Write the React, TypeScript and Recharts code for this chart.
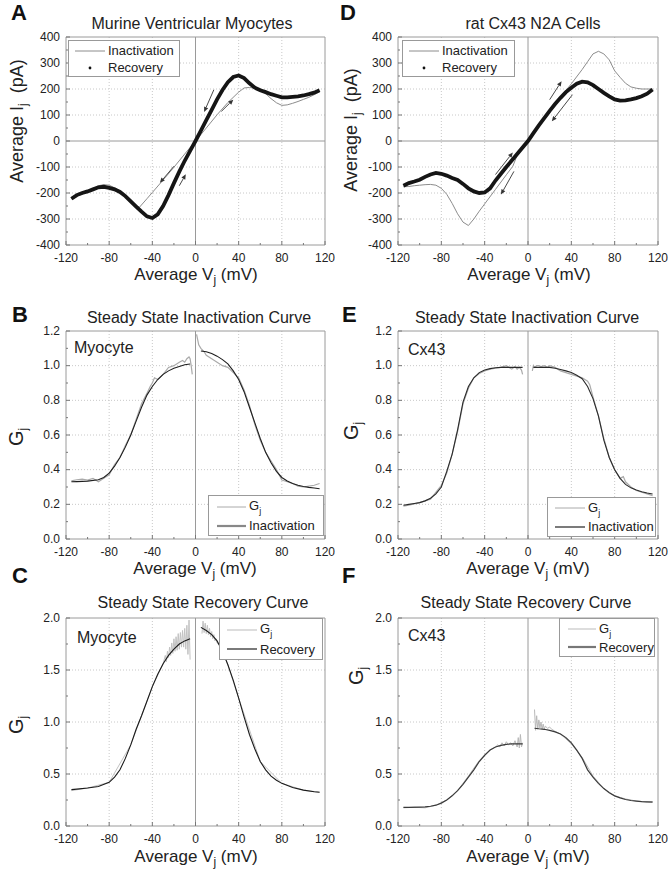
import React from 'react';
import { LineChart, Line, XAxis, YAxis, ReferenceLine, Legend } from 'recharts';

const FONT = '"Liberation Sans", Arial, Helvetica, sans-serif';
const AX = '#9a9a9a';
const GRID = '#c8c8c8';
const TXT = '#222';

// shared x axis (Vj, mV)
const xTicks = [-120, -100, -80, -60, -40, -20, 0, 20, 40, 60, 80, 100, 120];
const xMajor = [-120, -80, -40, 0, 40, 80, 120];
const xGrid = [-80, -40, 40, 80];

// current axis (A, D)
const iTicks = [-400, -350, -300, -250, -200, -150, -100, -50, 0, 50, 100, 150, 200, 250, 300, 350, 400];
const iMajor = [-400, -300, -200, -100, 0, 100, 200, 300, 400];
const iGrid = [-300, -200, -100, 100, 200, 300];

// Gj axis 0-1.2 (B, E)
const g12Ticks = [0, 0.1, 0.2, 0.3, 0.4, 0.5, 0.6, 0.7, 0.8, 0.9, 1.0, 1.1, 1.2];
const g12Major = [0, 0.2, 0.4, 0.6, 0.8, 1.0, 1.2];
const g12Grid = [0.2, 0.4, 0.6, 0.8, 1.0];

// Gj axis 0-2 (C, F)
const g2Ticks = [0, 0.25, 0.5, 0.75, 1.0, 1.25, 1.5, 1.75, 2.0];
const g2Major = [0, 0.5, 1.0, 1.5, 2.0];
const g2Grid = [0.5, 1.0, 1.5];

// A: murine ventricular myocytes
const aInactV = [-115, -110, -105, -100, -95, -90, -85, -80, -75, -70, -65, -60, -55, -52, -45, -40, -30, -20, -10, 0, 10, 20, 30, 40, 45, 50, 55, 60, 65, 70, 75, 80, 85, 90, 95, 100, 105, 110, 115];
const aInactI = [-222, -212, -204, -196, -184, -172, -168, -170, -180, -192, -210, -232, -250, -255, -222, -198, -150, -101, -50, 0, 50, 101, 148, 188, 204, 206, 203, 198, 182, 163, 147, 137, 139, 145, 152, 160, 168, 178, 190];
const aRecV = [-115, -110, -105, -100, -95, -90, -85, -80, -75, -70, -65, -60, -55, -50, -45, -40, -35, -30, -25, -20, -15, -10, -5, 0, 5, 10, 15, 20, 25, 30, 35, 40, 45, 50, 55, 60, 65, 70, 75, 80, 85, 90, 95, 100, 105, 110, 115];
const aRecI = [-222, -208, -200, -194, -186, -178, -176, -180, -186, -196, -212, -232, -252, -272, -290, -296, -282, -250, -208, -162, -118, -76, -38, 0, 40, 80, 120, 160, 196, 226, 246, 252, 242, 222, 205, 195, 188, 180, 174, 168, 168, 170, 172, 175, 180, 186, 195];
// direction arrows [v1, i1, v2, i2]
const aArrows = [
  [-20, -97, -33, -161],
  [-15, -172, -9, -128],
  [17, 197, 8, 112],
  [24, 114, 35, 159],
];

// D: rat Cx43 N2A cells
const dInactV = [-115, -110, -105, -100, -95, -90, -85, -80, -75, -70, -65, -60, -55, -50, -45, -40, -30, -20, -14, -10, 0, 10, 20, 30, 40, 50, 55, 60, 65, 70, 75, 80, 85, 90, 95, 100, 105, 110, 115];
const dInactI = [-176, -175, -172, -170, -168, -167, -170, -182, -205, -240, -280, -312, -325, -300, -270, -242, -186, -130, -97, -55, 0, 58, 118, 169, 220, 275, 305, 335, 345, 335, 312, 270, 245, 222, 208, 203, 200, 200, 200];
const dRecV = [-115, -110, -105, -100, -95, -90, -85, -80, -75, -70, -65, -60, -55, -50, -45, -40, -35, -30, -25, -20, -15, -10, -5, 0, 5, 10, 15, 20, 25, 30, 35, 40, 45, 50, 55, 60, 65, 70, 75, 80, 85, 90, 95, 100, 105, 110, 115];
const dRecI = [-172, -162, -156, -149, -138, -129, -123, -126, -133, -142, -150, -165, -182, -194, -200, -198, -182, -152, -126, -100, -75, -50, -25, 0, 30, 60, 88, 116, 142, 166, 188, 205, 220, 228, 226, 215, 200, 185, 172, 160, 155, 156, 160, 165, 172, 182, 198];
const dArrows = [
  [20, 159, 31, 230],
  [41, 178, 22, 76],
  [-30, -129, -14, -44],
  [-13, -117, -25, -206],
];

// B: myocyte steady state inactivation
const bGjNegV = [-115, -110, -105, -100, -95, -90, -85, -80, -75, -70, -65, -60, -55, -50, -45, -42, -40, -38, -35, -30, -25, -20, -15, -12, -10, -8, -6, -5, -4, -3];
const bGjNegG = [0.335, 0.342, 0.345, 0.34, 0.35, 0.33, 0.35, 0.37, 0.43, 0.47, 0.54, 0.6, 0.69, 0.78, 0.84, 0.88, 0.9, 0.93, 0.92, 0.95, 0.99, 1.0, 1.02, 1.03, 1.02, 1.04, 1.05, 1.04, 1.0, 0.95];
const bGjPosV = [1, 2, 3, 5, 8, 10, 15, 20, 25, 30, 35, 40, 45, 50, 55, 60, 65, 70, 75, 80, 85, 90, 95, 100, 105, 110, 115];
const bGjPosG = [1.18, 1.15, 1.12, 1.1, 1.08, 1.06, 1.04, 1.02, 1.0, 0.99, 0.96, 0.93, 0.86, 0.77, 0.66, 0.57, 0.5, 0.45, 0.4, 0.34, 0.33, 0.32, 0.305, 0.3, 0.305, 0.31, 0.32];
const bFitNegV = [-115, -110, -100, -90, -85, -80, -75, -70, -65, -60, -55, -50, -45, -40, -35, -30, -25, -20, -15, -10, -5];
const bFitNegG = [0.33, 0.331, 0.334, 0.342, 0.355, 0.38, 0.42, 0.47, 0.53, 0.6, 0.68, 0.76, 0.83, 0.88, 0.92, 0.95, 0.97, 0.985, 0.995, 1.005, 1.01];
const bFitPosV = [5, 10, 15, 20, 25, 30, 35, 40, 45, 50, 55, 60, 65, 70, 75, 80, 85, 90, 95, 100, 105, 110, 115];
const bFitPosG = [1.085, 1.08, 1.07, 1.055, 1.035, 1.01, 0.97, 0.92, 0.85, 0.76, 0.67, 0.58, 0.5, 0.44, 0.39, 0.355, 0.335, 0.32, 0.31, 0.303, 0.298, 0.294, 0.29];

// E: Cx43 steady state inactivation
const eGjNegV = [-115, -110, -100, -90, -80, -75, -70, -65, -60, -55, -50, -45, -40, -35, -30, -25, -20, -15, -12, -10, -8, -6, -5];
const eGjNegG = [0.19, 0.195, 0.21, 0.23, 0.31, 0.38, 0.49, 0.62, 0.78, 0.87, 0.93, 0.955, 0.97, 0.98, 0.985, 0.99, 1.0, 0.98, 0.995, 0.98, 0.99, 0.975, 0.95];
const eGjPosV = [4, 5, 6, 8, 10, 12, 15, 18, 20, 25, 30, 35, 40, 45, 50, 55, 57, 60, 65, 70, 75, 80, 85, 88, 90, 95, 100, 105, 110, 115];
const eGjPosG = [0.97, 1.0, 0.99, 1.0, 1.0, 0.995, 1.0, 0.99, 1.0, 0.99, 0.97, 0.96, 0.95, 0.94, 0.93, 0.91, 0.89, 0.82, 0.71, 0.58, 0.47, 0.4, 0.35, 0.36, 0.33, 0.3, 0.28, 0.27, 0.26, 0.25];
const eFitNegV = [-115, -110, -105, -100, -95, -90, -85, -80, -75, -70, -65, -60, -55, -50, -45, -40, -35, -30, -25, -20, -15, -10, -5];
const eFitNegG = [0.195, 0.2, 0.205, 0.21, 0.22, 0.235, 0.26, 0.3, 0.39, 0.49, 0.63, 0.79, 0.88, 0.93, 0.96, 0.975, 0.983, 0.988, 0.99, 0.99, 0.99, 0.99, 0.99];
const eFitPosV = [5, 10, 15, 20, 25, 30, 35, 40, 45, 50, 55, 60, 65, 70, 75, 80, 85, 90, 95, 100, 105, 110, 115];
const eFitPosG = [0.99, 0.99, 0.99, 0.99, 0.985, 0.978, 0.97, 0.96, 0.945, 0.925, 0.88, 0.81, 0.71, 0.57, 0.47, 0.4, 0.35, 0.315, 0.295, 0.283, 0.273, 0.265, 0.26];

// C: myocyte steady state recovery
const cGjNegV = [-115, -100, -80, -60, -40, -30, -28, -27, -26, -25, -24, -23, -22, -21, -20, -19, -18, -17, -16, -15, -14, -13, -12, -11, -10, -9, -8, -7, -6, -5];
const cGjNegG = [0.34, 0.365, 0.42, 0.78, 1.34, 1.56, 1.64, 1.58, 1.68, 1.62, 1.72, 1.64, 1.76, 1.66, 1.8, 1.68, 1.82, 1.69, 1.85, 1.7, 1.86, 1.72, 1.88, 1.72, 1.9, 1.7, 1.93, 1.65, 1.98, 1.6];
const cGjPosV = [6, 7, 8, 9, 10, 11, 12, 13, 14, 15, 16, 17, 18, 19, 20, 22, 24, 26, 30, 40, 60, 80, 100, 115];
const cGjPosG = [1.85, 1.97, 1.86, 1.95, 1.85, 1.93, 1.84, 1.9, 1.82, 1.87, 1.8, 1.84, 1.78, 1.8, 1.76, 1.74, 1.7, 1.66, 1.55, 1.23, 0.62, 0.41, 0.345, 0.325];
const cFitNegV = [-115, -110, -100, -90, -80, -75, -70, -65, -60, -55, -50, -45, -40, -35, -30, -25, -20, -15, -10, -5];
const cFitNegG = [0.35, 0.355, 0.365, 0.38, 0.42, 0.47, 0.54, 0.65, 0.78, 0.93, 1.06, 1.2, 1.34, 1.46, 1.56, 1.64, 1.7, 1.75, 1.78, 1.8];
const cFitPosV = [5, 10, 15, 20, 25, 30, 35, 40, 45, 50, 55, 60, 65, 70, 75, 80, 90, 100, 110, 115];
const cFitPosG = [1.91, 1.88, 1.84, 1.78, 1.68, 1.55, 1.4, 1.23, 1.05, 0.88, 0.74, 0.62, 0.54, 0.48, 0.44, 0.41, 0.37, 0.345, 0.33, 0.325];

// F: Cx43 steady state recovery
const fGjNegV = [-115, -105, -95, -85, -75, -65, -55, -45, -35, -30, -28, -26, -24, -22, -20, -18, -16, -14, -12, -10, -9, -8, -7, -6, -5];
const fGjNegG = [0.175, 0.18, 0.175, 0.2, 0.25, 0.34, 0.48, 0.63, 0.73, 0.76, 0.78, 0.76, 0.8, 0.77, 0.81, 0.78, 0.8, 0.77, 0.82, 0.76, 0.85, 0.75, 0.88, 0.76, 0.8];
const fGjPosV = [6, 7, 8, 9, 10, 11, 12, 13, 14, 15, 16, 18, 20, 22, 25, 30, 40, 50, 60, 70, 80, 90, 100, 110, 115];
const fGjPosG = [1.12, 0.92, 1.06, 0.93, 1.02, 0.94, 1.0, 0.93, 0.98, 0.93, 0.96, 0.94, 0.95, 0.93, 0.91, 0.885, 0.79, 0.66, 0.48, 0.36, 0.29, 0.26, 0.24, 0.23, 0.235];
const fFitNegV = [-115, -110, -100, -95, -90, -85, -80, -75, -70, -65, -60, -55, -50, -45, -40, -35, -30, -25, -20, -15, -10, -5];
const fFitNegG = [0.18, 0.18, 0.182, 0.183, 0.19, 0.2, 0.22, 0.25, 0.29, 0.34, 0.4, 0.47, 0.54, 0.62, 0.68, 0.73, 0.76, 0.775, 0.785, 0.79, 0.79, 0.79];
const fFitPosV = [6, 10, 15, 20, 25, 30, 35, 40, 45, 50, 55, 60, 65, 70, 75, 80, 85, 90, 95, 100, 105, 110, 115];
const fFitPosG = [0.94, 0.935, 0.93, 0.92, 0.905, 0.885, 0.85, 0.8, 0.73, 0.65, 0.54, 0.47, 0.41, 0.36, 0.32, 0.29, 0.27, 0.255, 0.245, 0.24, 0.235, 0.232, 0.23];

type Pt = { v: number; y: number };
const pts = (vs: number[], ys: number[]): Pt[] => vs.map((v, i) => ({ v, y: ys[i] }));

interface Series { key: string; data: Pt[]; color: string; width: number }
interface LegendItem { label: string; sub?: string; color: string; width: number; dot?: boolean }

const near = (list: number[], v: number) => list.some((m) => Math.abs(m - v) < 1e-6);

const XTick = (props: any) => {
  const { x, y, payload } = props;
  const v = payload.value;
  const major = near(xMajor, v);
  const ay = y - 4;
  return (
    <g>
      <line x1={x} x2={x} y1={ay} y2={ay - (major ? 4 : 2)} stroke="#777" />
      {major && (
        <text x={x} y={ay + 17} textAnchor="middle" fontSize={12} fill={TXT} fontFamily={FONT}>
          {v}
        </text>
      )}
    </g>
  );
};

const YTick = (props: any) => {
  const { x, y, payload, majors, fmt } = props;
  const v = payload.value;
  const major = near(majors, v);
  const ax = x + 6;
  return (
    <g>
      <line x1={ax} x2={ax + (major ? 4 : 2)} y1={y} y2={y} stroke="#777" />
      {major && (
        <text x={x} y={y + 3.5} textAnchor="end" fontSize={12} fill={TXT} fontFamily={FONT}>
          {fmt(v)}
        </text>
      )}
    </g>
  );
};

// small annotation arrow drawn by ReferenceLine
const ArrowShape = (p: any) => {
  const { x1, y1, x2, y2 } = p;
  const a = Math.atan2(y2 - y1, x2 - x1);
  const s = 5;
  const w = 2.2;
  const bx = x2 - s * Math.cos(a);
  const by = y2 - s * Math.sin(a);
  const nx = -Math.sin(a) * w;
  const ny = Math.cos(a) * w;
  return (
    <g>
      <line x1={x1} y1={y1} x2={bx} y2={by} stroke="#333" strokeWidth={0.9} />
      <polygon points={`${x2},${y2} ${bx + nx},${by + ny} ${bx - nx},${by - ny}`} fill="#333" />
    </g>
  );
};

const LegendBox = ({ items, w, h, pad, sample }: { items: LegendItem[]; w: number; h: number; pad: number; sample: number }) => (
  <div
    style={{
      boxSizing: 'border-box',
      width: w,
      height: h,
      border: '1px solid #999',
      background: '#fff',
      padding: `1px 0 0 ${pad}px`,
      fontFamily: FONT,
      fontSize: 13,
      color: TXT,
      lineHeight: '17px',
    }}
  >
    {items.map((it) => (
      <div key={it.label} style={{ display: 'flex', alignItems: 'center', height: (h - 3) / items.length }}>
        <svg width={sample} height={10} style={{ flex: 'none' }}>
          {it.dot ? (
            <circle cx={sample / 2} cy={5} r={1.4} fill={it.color} />
          ) : (
            <line x1={0} x2={sample} y1={5} y2={5} stroke={it.color} strokeWidth={it.width} />
          )}
        </svg>
        <span style={{ marginLeft: 3, whiteSpace: 'nowrap' }}>
          {it.label}
          {it.sub && <span style={{ fontSize: 9, position: 'relative', top: 4 }}>{it.sub}</span>}
        </span>
      </div>
    ))}
  </div>
);

interface PanelProps {
  left: number;
  top: number;
  width: number;
  yDomain: [number, number];
  yTicks: number[];
  yMajor: number[];
  yGrid: number[];
  yFmt: (n: number) => string;
  zeroH?: boolean;
  series: Series[];
  arrows?: number[][];
  legend: LegendItem[];
  box: { x: number; y: number; w: number; h: number; pad: number; sample: number };
}

const H = 238;

const Panel = ({ left, top, width, yDomain, yTicks, yMajor, yGrid, yFmt, zeroH, series, arrows, legend, box }: PanelProps) => (
  <div style={{ position: 'absolute', left, top, width, height: H }}>
    <LineChart width={width} height={H} margin={{ top: 10, right: 10, bottom: 0, left: 0 }}>
      <XAxis
        dataKey="v"
        type="number"
        domain={[-120, 120]}
        ticks={xTicks}
        interval={0}
        allowDataOverflow
        tickSize={0}
        tickMargin={4}
        tickLine={false}
        axisLine={{ stroke: AX }}
        height={20}
        tick={(p: any) => <XTick {...p} />}
      />
      <YAxis
        type="number"
        domain={yDomain}
        ticks={yTicks}
        interval={0}
        allowDataOverflow
        tickSize={0}
        tickMargin={6}
        tickLine={false}
        axisLine={{ stroke: AX }}
        width={40}
        tick={(p: any) => <YTick {...p} majors={yMajor} fmt={yFmt} />}
      />
      {xGrid.map((g) => (
        <ReferenceLine key={'gx' + g} x={g} stroke={GRID} strokeDasharray="1 2" />
      ))}
      {yGrid.map((g) => (
        <ReferenceLine key={'gy' + g} y={g} stroke={GRID} strokeDasharray="1 2" />
      ))}
      <ReferenceLine x={0} stroke={AX} />
      {zeroH && <ReferenceLine y={0} stroke={AX} />}
      <ReferenceLine x={120} stroke={AX} />
      <ReferenceLine y={yDomain[1]} stroke={AX} />
      {series.map((s) => (
        <Line
          key={s.key}
          data={s.data}
          dataKey="y"
          name={s.key}
          type="linear"
          stroke={s.color}
          strokeWidth={s.width}
          dot={false}
          activeDot={false}
          legendType="none"
          isAnimationActive={false}
        />
      ))}
      {(arrows || []).map((a, i) => (
        <ReferenceLine
          key={'ar' + i}
          segment={[
            { x: a[0], y: a[1] },
            { x: a[2], y: a[3] },
          ]}
          shape={ArrowShape}
        />
      ))}
      <Legend
        layout="vertical"
        align="center"
        verticalAlign="middle"
        width={box.w}
        height={box.h}
        wrapperStyle={{ left: box.x - left, top: box.y - top, width: box.w, height: box.h }}
        content={() => <LegendBox items={legend} w={box.w} h={box.h} pad={box.pad} sample={box.sample} />}
      />
    </LineChart>
  </div>
);

const fmtI = (n: number) => String(n);
const fmtG = (n: number) => n.toFixed(1);

const GRAY_THIN = '#8c8c8c';
const GJ = '#aaaaaa';

const Sub = ({ children }: { children: string }) => (
  <tspan dy={4} fontSize={12}>
    {children}
  </tspan>
);

const XLabel = ({ cx, y }: { cx: number; y: number }) => (
  <text x={cx} y={y} textAnchor="middle" fontSize={17} fill={TXT} fontFamily={FONT}>
    Average V<Sub>j</Sub>
    <tspan dy={-4}> (mV)</tspan>
  </text>
);

export default function App() {
  const L1 = 26;
  const L2 = 358;
  const W1 = 309;
  const W2 = 310;
  return (
    <div style={{ position: 'absolute', left: 0, top: 0, width: 672, height: 874, background: '#fff', overflow: 'hidden' }}>
      <Panel
        left={L1}
        top={27}
        width={W1}
        yDomain={[-400, 400]}
        yTicks={iTicks}
        yMajor={iMajor}
        yGrid={iGrid}
        yFmt={fmtI}
        zeroH
        series={[
          { key: 'Inactivation', data: pts(aInactV, aInactI), color: GRAY_THIN, width: 1 },
          { key: 'Recovery', data: pts(aRecV, aRecI), color: '#151515', width: 3.8 },
        ]}
        arrows={aArrows}
        legend={[
          { label: 'Inactivation', color: GRAY_THIN, width: 1 },
          { label: 'Recovery', color: '#111', width: 1, dot: true },
        ]}
        box={{ x: 68, y: 40, w: 112, h: 37, pad: 6, sample: 30 }}
      />
      <Panel
        left={L2}
        top={27}
        width={W2}
        yDomain={[-400, 400]}
        yTicks={iTicks}
        yMajor={iMajor}
        yGrid={iGrid}
        yFmt={fmtI}
        zeroH
        series={[
          { key: 'Inactivation', data: pts(dInactV, dInactI), color: GRAY_THIN, width: 1 },
          { key: 'Recovery', data: pts(dRecV, dRecI), color: '#151515', width: 3.8 },
        ]}
        arrows={dArrows}
        legend={[
          { label: 'Inactivation', color: GRAY_THIN, width: 1 },
          { label: 'Recovery', color: '#111', width: 1, dot: true },
        ]}
        box={{ x: 402, y: 40, w: 113, h: 37, pad: 6, sample: 30 }}
      />
      <Panel
        left={L1}
        top={321}
        width={W1}
        yDomain={[0, 1.2]}
        yTicks={g12Ticks}
        yMajor={g12Major}
        yGrid={g12Grid}
        yFmt={fmtG}
        series={[
          { key: 'GjNeg', data: pts(bGjNegV, bGjNegG), color: GJ, width: 1.2 },
          { key: 'GjPos', data: pts(bGjPosV, bGjPosG), color: GJ, width: 1.2 },
          { key: 'FitNeg', data: pts(bFitNegV, bFitNegG), color: '#1e1e1e', width: 1.1 },
          { key: 'FitPos', data: pts(bFitPosV, bFitPosG), color: '#1e1e1e', width: 1.1 },
        ]}
        legend={[
          { label: 'G', sub: 'j', color: GJ, width: 1 },
          { label: 'Inactivation', color: '#888', width: 2.2 },
        ]}
        box={{ x: 208, y: 495, w: 116, h: 41, pad: 8, sample: 29 }}
      />
      <Panel
        left={L2}
        top={321}
        width={W2}
        yDomain={[0, 1.2]}
        yTicks={g12Ticks}
        yMajor={g12Major}
        yGrid={g12Grid}
        yFmt={fmtG}
        series={[
          { key: 'GjNeg', data: pts(eGjNegV, eGjNegG), color: GJ, width: 1.2 },
          { key: 'GjPos', data: pts(eGjPosV, eGjPosG), color: GJ, width: 1.2 },
          { key: 'FitNeg', data: pts(eFitNegV, eFitNegG), color: '#2a2a2a', width: 1.1 },
          { key: 'FitPos', data: pts(eFitPosV, eFitPosG), color: '#2a2a2a', width: 1.1 },
        ]}
        legend={[
          { label: 'G', sub: 'j', color: GJ, width: 1 },
          { label: 'Inactivation', color: '#333', width: 1.3 },
        ]}
        box={{ x: 547, y: 497, w: 109, h: 40, pad: 7, sample: 30 }}
      />
      <Panel
        left={L1}
        top={608}
        width={W1}
        yDomain={[0, 2]}
        yTicks={g2Ticks}
        yMajor={g2Major}
        yGrid={g2Grid}
        yFmt={fmtG}
        series={[
          { key: 'GjNeg', data: pts(cGjNegV, cGjNegG), color: '#c2c2c2', width: 1 },
          { key: 'GjPos', data: pts(cGjPosV, cGjPosG), color: '#c2c2c2', width: 1 },
          { key: 'FitNeg', data: pts(cFitNegV, cFitNegG), color: '#1a1a1a', width: 1.1 },
          { key: 'FitPos', data: pts(cFitPosV, cFitPosG), color: '#1a1a1a', width: 1.1 },
        ]}
        legend={[
          { label: 'G', sub: 'j', color: '#bbb', width: 1 },
          { label: 'Recovery', color: '#222', width: 1.2 },
        ]}
        box={{ x: 219, y: 618, w: 104, h: 42, pad: 7, sample: 30 }}
      />
      <Panel
        left={L2}
        top={608}
        width={W2}
        yDomain={[0, 2]}
        yTicks={g2Ticks}
        yMajor={g2Major}
        yGrid={g2Grid}
        yFmt={fmtG}
        series={[
          { key: 'GjNeg', data: pts(fGjNegV, fGjNegG), color: '#b8b8b8', width: 1 },
          { key: 'GjPos', data: pts(fGjPosV, fGjPosG), color: '#b8b8b8', width: 1 },
          { key: 'FitNeg', data: pts(fFitNegV, fFitNegG), color: '#3a3a3a', width: 1.2 },
          { key: 'FitPos', data: pts(fFitPosV, fFitPosG), color: '#3a3a3a', width: 1.2 },
        ]}
        legend={[
          { label: 'G', sub: 'j', color: '#bbb', width: 1 },
          { label: 'Recovery', color: '#777', width: 2.2 },
        ]}
        box={{ x: 559, y: 618, w: 96, h: 39, pad: 8, sample: 28 }}
      />

      <svg width={672} height={874} style={{ position: 'absolute', left: 0, top: 0, pointerEvents: 'none' }} fontFamily={FONT}>
        {/* panel letters */}
        <g fontSize={22} fontWeight="bold" fill="#111">
          <text x={11} y={20}>A</text>
          <text x={340} y={20}>D</text>
          <text x={12} y={322}>B</text>
          <text x={342} y={322}>E</text>
          <text x={12} y={583}>C</text>
          <text x={342} y={583}>F</text>
        </g>
        {/* titles */}
        <g fontSize={16} fill={TXT} textAnchor="middle">
          <text x={192} y={29}>Murine Ventricular Myocytes</text>
          <text x={533} y={29}>rat Cx43 N2A Cells</text>
          <text x={199} y={323}>Steady State Inactivation Curve</text>
          <text x={527} y={323}>Steady State Inactivation Curve</text>
          <text x={203} y={608}>Steady State Recovery Curve</text>
          <text x={526} y={608}>Steady State Recovery Curve</text>
        </g>
        {/* x labels */}
        <XLabel cx={196} y={280} />
        <XLabel cx={529} y={280} />
        <XLabel cx={195} y={574} />
        <XLabel cx={528} y={574} />
        <XLabel cx={196} y={862} />
        <XLabel cx={528} y={862} />
        {/* y labels */}
        <text transform="translate(23,121) rotate(-90)" textAnchor="middle" fontSize={18} fill={TXT}>
          Average I<Sub>j</Sub>
          <tspan dy={-4}>{'\u00a0\u00a0(pA)'}</tspan>
        </text>
        <text transform="translate(357,130) rotate(-90)" textAnchor="middle" fontSize={18} fill={TXT}>
          Average I<Sub>j</Sub>
          <tspan dy={-4}>{'\u00a0\u00a0(pA)'}</tspan>
        </text>
        {[
          [23, 437],
          [358, 431],
          [23, 725],
          [363, 676],
        ].map(([x, y]) => (
          <text key={x + '-' + y} transform={`translate(${x},${y}) rotate(-90)`} textAnchor="middle" fontSize={20} fill={TXT}>
            G<Sub>j</Sub>
          </text>
        ))}
        {/* inset labels */}
        <g fontSize={16} fill={TXT}>
          <text x={74} y={353}>Myocyte</text>
          <text x={408} y={355}>Cx43</text>
          <text x={77} y={643}>Myocyte</text>
          <text x={408} y={641}>Cx43</text>
        </g>
      </svg>
    </div>
  );
}
